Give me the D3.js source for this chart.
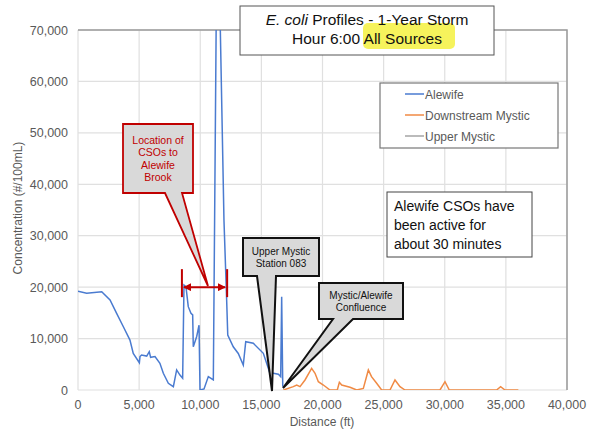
<!DOCTYPE html>
<html><head><meta charset="utf-8">
<script src="https://cdn.jsdelivr.net/npm/d3@7"></script>
<style>body{margin:0;background:#fff}svg{display:block}text{font-family:Arial,"Liberation Sans",sans-serif}</style>
</head><body>
<svg id="c" width="590" height="432"></svg>
<script>
const xTicks=[0,5000,10000,15000,20000,25000,30000,35000,40000];
const yTicks=[0,10000,20000,30000,40000,50000,60000,70000];
const alewifeX=[0,710,1940,2620,3160,3710,4250,4520,5020,5070,5200,5620,5830,5940,6300,6700,6980,7390,7800,8070,8340,8560,8670,8830,9020,9240,9380,9430,9710,9900,9980,10310,10660,11070,11400,11940,12160,12250,12700,13110,13520,13720,14340,15160,15430,15700,15980,16390,16580,16660,16750];
const alewifeY=[19200,18800,19100,17500,14900,12300,9700,7100,5300,6500,6800,6600,7450,6350,6500,5200,3250,1300,650,3900,2900,2270,20400,20100,16200,14900,14600,8400,10400,12600,0,200,2600,1950,100000,33000,17500,10700,8400,7100,4860,9400,9080,7130,5200,3250,3250,3050,2600,18150,650];
const downX=[16800,17610,17890,18160,18570,19110,19390,19660,20070,20610,21210,21380,21570,22250,22800,23340,23750,24010,24430,24840,25520,25930,26340,26750,29610,30020,30370,34240,34570,34930,36020];
const downY=[0,650,970,650,1950,4220,3250,1620,970,0,0,1490,970,520,0,320,3900,2600,1300,0,0,1950,650,0,0,1620,0,0,650,0,0];
const upperX=[], upperY=[];
const seriesNames=["Alewife","Downstream Mystic","Upper Mystic"];
const seriesColors=["#4a7bd0","#f08a44","#a5a5a5"];

const svg=d3.select("#c");
const x=d3.scaleLinear().domain([0,40000]).range([78,567]);
const y=d3.scaleLinear().domain([0,70000]).range([390,30]);
const fmt=d3.format(",");

// gridlines
svg.append("g").selectAll("line").data(xTicks).join("line")
 .attr("x1",d=>x(d)).attr("x2",d=>x(d)).attr("y1",y(0)).attr("y2",y(70000))
 .attr("stroke","#e0e0e0").attr("stroke-width",1.2);
svg.append("g").selectAll("line").data(yTicks).join("line")
 .attr("x1",x(0)).attr("x2",x(40000)).attr("y1",d=>y(d)).attr("y2",d=>y(d))
 .attr("stroke","#e0e0e0").attr("stroke-width",1.2);
// frame top/right
svg.append("path").attr("d",`M${x(0)},${y(70000)}H${x(40000)}V${y(0)}`).attr("fill","none").attr("stroke","#9a9a9a").attr("stroke-width",1.5);

// tick labels
svg.append("g").selectAll("text").data(yTicks).join("text")
 .attr("x",68).attr("y",d=>y(d)+4.5).attr("text-anchor","end")
 .attr("font-size",12.5).attr("fill","#595959").text(fmt);
svg.append("g").selectAll("text").data(xTicks).join("text")
 .attr("x",d=>x(d)).attr("y",409).attr("text-anchor","middle")
 .attr("font-size",12.5).attr("fill","#595959").text(fmt);
svg.append("text").attr("x",322).attr("y",426).attr("text-anchor","middle").attr("font-size",12).attr("fill","#595959").text("Distance (ft)");
svg.append("text").attr("transform","translate(22,208) rotate(-90)").attr("text-anchor","middle").attr("font-size",12).attr("fill","#595959").text("Concentration (#/100mL)");

// clip
svg.append("clipPath").attr("id","pc").append("rect").attr("x",x(0)).attr("y",y(70000)).attr("width",x(40000)-x(0)).attr("height",y(0)-y(70000));
const line=d3.line().x(d=>x(d[0])).y(d=>y(d[1]));
const g=svg.append("g").attr("clip-path","url(#pc)");
g.append("path").attr("d",line(d3.zip(upperX,upperY))).attr("fill","none").attr("stroke",seriesColors[2]).attr("stroke-width",1.5);
g.append("path").attr("d",line(d3.zip(downX,downY))).attr("fill","none").attr("stroke",seriesColors[1]).attr("stroke-width",1.5);
g.append("path").attr("d",line(d3.zip(alewifeX,alewifeY))).attr("fill","none").attr("stroke",seriesColors[0]).attr("stroke-width",1.5);

// title box
svg.append("rect").attr("x",240).attr("y",6).attr("width",254).attr("height",49).attr("fill","#fff").attr("stroke","#555").attr("stroke-width",1);
svg.append("rect").attr("x",363).attr("y",23).attr("width",92).attr("height",26).attr("rx",5).attr("fill","#f6f35c");
const t1=svg.append("text").attr("x",367).attr("y",25).attr("text-anchor","middle").attr("font-size",15.5).attr("fill","#111");
t1.append("tspan").attr("font-style","italic").text("E. coli");
t1.append("tspan").text(" Profiles - 1-Year Storm");
svg.append("text").attr("x",367).attr("y",44).attr("text-anchor","middle").attr("font-size",15.5).attr("fill","#111").text("Hour 6:00 All Sources");

// legend
svg.append("rect").attr("x",380).attr("y",83).attr("width",178).attr("height",65).attr("fill","#fff").attr("stroke","#777").attr("stroke-width",1.2);
const lg=svg.append("g").selectAll("g").data(seriesNames).join("g").attr("transform",(d,i)=>`translate(405,${94+i*21})`);
lg.append("line").attr("x1",0).attr("x2",19).attr("stroke",(d,i)=>seriesColors[i]).attr("stroke-width",1.5);
lg.append("text").attr("x",20).attr("y",4.5).attr("font-size",12).attr("fill","#595959").text(d=>d);

// note box
svg.append("rect").attr("x",387).attr("y",192).attr("width",145).attr("height",65).attr("fill","#fff").attr("stroke","#444").attr("stroke-width",1);
["Alewife CSOs have","been active for","about 30 minutes"].forEach((s,i)=>
 svg.append("text").attr("x",394).attr("y",211+i*19).attr("font-size",14).attr("font-family","Lato, 'Open Sans', sans-serif").attr("fill","#111").text(s));

// callouts
function callout(x0,y0,x1,y1,tl,tr,px,py,stroke,sw,lines,tc,ty,fs){
 svg.append("path").attr("d",`M${x0},${y0}H${x1}V${y1}H${tr}L${px},${py}L${tl},${y1}H${x0}Z`)
  .attr("fill","#d9d9d9").attr("stroke",stroke).attr("stroke-width",sw).attr("stroke-linejoin","miter");
 lines.forEach((s,i)=>svg.append("text").attr("x",(x0+x1)/2).attr("y",ty+i*(fs+1.8)).attr("text-anchor","middle").attr("font-size",fs).attr("fill",tc).text(s));
}
callout(123,124,193,193,165,182,208,286,"#c00000",1.8,["Location of","CSOs to","Alewife","Brook"],"#c00000",144,10.5);
callout(243,238,319,276,257,276,272,391,"#111",2,["Upper Mystic","Station 083"],"#111",255,10);
callout(319,283,403,319,333,353,283,388,"#111",2,["Mystic/Alewife","Confluence"],"#111",299,10);

// red bracket
const bx0=x(8500), bx1=x(12200), by=y(20000);
svg.append("defs").html(`<marker id="ar" viewBox="0 0 10 10" refX="9" refY="5" markerWidth="4" markerHeight="4" orient="auto-start-reverse"><path d="M0,0L10,5L0,10z" fill="#c00000"/></marker>`);
svg.append("line").attr("x1",bx0+2).attr("x2",bx1-2).attr("y1",by).attr("y2",by).attr("stroke","#c00000").attr("stroke-width",2).attr("marker-start","url(#ar)").attr("marker-end","url(#ar)");
[bx0,bx1].forEach(bx=>svg.append("line").attr("x1",bx).attr("x2",bx).attr("y1",by-18).attr("y2",by+10).attr("stroke","#c00000").attr("stroke-width",2));
</script>
</body></html>
